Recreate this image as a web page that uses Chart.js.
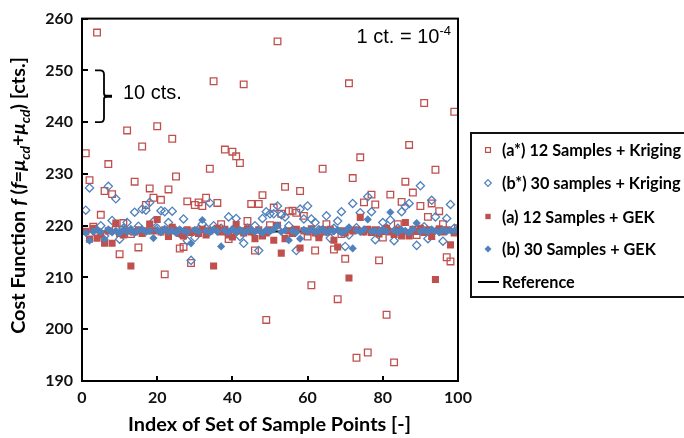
<!DOCTYPE html>
<html>
<head>
<meta charset="utf-8">
<script src="https://cdn.jsdelivr.net/npm/chart.js@4.4.1/dist/chart.umd.min.js"></script>
<style>
  html, body { margin: 0; padding: 0; background: #fff; }
  #wrap { position: relative; width: 684px; height: 438px; }
</style>
</head>
<body>
<div id="wrap"><canvas id="costChart"></canvas></div>
<script>
// index of the set of sample points
const sampleIndex = [
  1, 2, 3, 4, 5, 6, 7, 8, 9, 10, 11, 12, 13, 14, 15, 16, 17, 18, 19, 20,
  21, 22, 23, 24, 25, 26, 27, 28, 29, 30, 31, 32, 33, 34, 35, 36, 37, 38, 39, 40,
  41, 42, 43, 44, 45, 46, 47, 48, 49, 50, 51, 52, 53, 54, 55, 56, 57, 58, 59, 60,
  61, 62, 63, 64, 65, 66, 67, 68, 69, 70, 71, 72, 73, 74, 75, 76, 77, 78, 79, 80,
  81, 82, 83, 84, 85, 86, 87, 88, 89, 90, 91, 92, 93, 94, 95, 96, 97, 98, 99, 100
];

// (a*) 12 Samples + Kriging
const kriging12 = [
  234.0, 228.8, 219.8, 257.3, 222.1, 226.7, 231.9, 226.1, 219.2, 214.5,
  220.5, 238.4, 218.4, 228.5, 215.8, 235.3, 224.0, 227.2, 225.4, 239.2,
  225.0, 210.6, 227.0, 236.8, 229.5, 215.6, 215.9, 224.7, 212.8, 224.0,
  224.5, 223.8, 225.4, 231.0, 247.9, 224.4, 220.3, 234.7, 217.4, 234.3,
  233.4, 232.1, 247.3, 220.9, 224.2, 215.2, 224.2, 225.9, 201.8, 220.1,
  223.5, 255.6, 222.3, 227.5, 222.8, 222.9, 222.5, 226.7, 221.9, 217.9,
  208.5, 215.2, 218.5, 231.0, 220.3, 219.0, 215.4, 205.8, 218.4, 213.6,
  247.5, 229.2, 194.5, 233.2, 224.5, 195.5, 226.0, 224.1, 213.3, 217.7,
  202.8, 226.0, 193.6, 220.3, 224.6, 228.5, 235.6, 226.4, 218.2, 223.8,
  243.7, 221.7, 224.3, 230.8, 222.8, 220.3, 213.9, 213.1, 242.0, 219.5
];

// (b*) 30 samples + Kriging
const kriging30 = [
  223.0, 227.3, 219.0, 218.5, 220.0, 218.0, 227.6, 221.0, 225.2, 217.4,
  219.5, 220.6, 219.0, 222.6, 219.9, 223.2, 223.0, 224.5, 220.8, 219.5,
  222.9, 222.7, 220.6, 222.8, 219.0, 218.5, 221.3, 217.1, 213.3, 217.7,
  219.3, 220.3, 219.5, 224.4, 220.0, 219.0, 219.5, 219.0, 221.7, 219.0,
  221.4, 217.9, 216.6, 219.5, 219.0, 220.0, 215.2, 221.4, 222.7, 222.3,
  222.3, 223.8, 222.1, 221.7, 220.0, 219.0, 215.2, 223.2, 221.3, 223.8,
  221.3, 220.6, 219.2, 219.0, 221.9, 217.6, 219.5, 220.9, 222.7, 216.0,
  218.2, 224.3, 219.6, 222.5, 219.0, 225.6, 222.7, 217.3, 219.0, 220.6,
  219.5, 221.1, 217.1, 219.5, 222.7, 223.7, 224.3, 219.0, 216.2, 227.7,
  219.8, 217.5, 224.9, 221.7, 219.0, 217.0, 221.4, 224.1, 219.5, 219.0
];

// (a) 12 Samples + GEK
const gek12 = [
  218.9, 217.4, 219.5, 217.6, 218.2, 216.6, 219.0, 216.6, 220.5, 218.5,
  218.2, 219.0, 212.2, 218.8, 219.2, 218.5, 219.0, 220.3, 219.0, 221.2,
  218.8, 219.2, 217.9, 219.7, 219.0, 218.5, 218.0, 219.2, 218.7, 219.0,
  218.5, 219.3, 218.2, 219.0, 212.2, 219.5, 218.8, 219.3, 218.2, 217.8,
  220.2, 219.0, 218.6, 219.4, 218.8, 217.5, 219.2, 218.0, 218.6, 219.2,
  217.2, 220.1, 214.7, 217.5, 219.0, 218.5, 219.3, 215.7, 219.0, 218.8,
  219.4, 218.6, 217.7, 219.2, 218.8, 219.3, 217.2, 215.9, 219.0, 218.6,
  209.9, 219.0, 219.2, 221.6, 218.8, 219.3, 218.7, 219.2, 218.4, 219.0,
  219.5, 218.8, 218.3, 219.2, 218.0, 220.6, 218.0, 219.3, 218.9, 219.5,
  218.7, 219.2, 217.9, 209.6, 219.4, 218.8, 219.2, 216.3, 218.6, 219.0
];

// (b) 30 Samples + GEK
const gek30 = [
  218.6, 217.1, 218.9, 219.2, 218.8, 217.4, 219.3, 218.7, 219.0, 218.5,
  219.2, 218.9, 219.4, 218.6, 219.1, 219.3, 218.8, 219.0, 217.6, 219.2,
  218.7, 219.4, 218.9, 219.1, 218.6, 219.3, 219.0, 218.8, 216.6, 219.2,
  218.9, 221.1, 219.0, 218.7, 219.3, 218.9, 216.0, 219.1, 218.8, 219.4,
  218.9, 219.2, 218.7, 219.0, 219.3, 218.8, 219.1, 218.6, 219.2, 218.9,
  219.3, 220.0, 218.8, 219.1, 217.2, 219.0, 218.7, 217.5, 219.2, 218.9,
  219.3, 218.8, 219.0, 219.4, 218.7, 219.1, 218.9, 219.2, 218.6, 219.0,
  219.7, 215.6, 219.1, 218.8, 219.3, 221.2, 218.9, 219.0, 218.7, 219.3,
  218.9, 222.6, 219.1, 218.8, 219.2, 219.0, 218.7, 219.3, 220.5, 218.9,
  219.1, 218.8, 219.3, 219.0, 218.7, 219.2, 218.9, 219.1, 219.0, 219.2
];

// reference line
const referenceX = [0, 100];
const referenceY = [218.9, 218.9];

const seriesNames = [
  "(a*) 12 Samples + Kriging",
  "(b*) 30 samples + Kriging",
  "(a) 12 Samples + GEK",
  "(b) 30 Samples + GEK",
  "Reference"
];

const xTicks = [0, 20, 40, 60, 80, 100];
const yTicks = [190, 200, 210, 220, 230, 240, 250, 260];

const RED = "#C0504D";
const BLUE = "#4F81BD";
const FONT = "Lato, 'Open Sans', sans-serif";

function toPoints(xs, ys) {
  return xs.map((x, i) => ({ x: x, y: ys[i] }));
}

// small marker helper, used for the legend
function drawMarker(ctx, style, x, y, r, color, filled, lw) {
  ctx.beginPath();
  if (style === "rect") {
    const s = r * Math.SQRT1_2;
    ctx.rect(x - s, y - s, 2 * s, 2 * s);
  } else {
    ctx.moveTo(x, y - r);
    ctx.lineTo(x + r, y);
    ctx.lineTo(x, y + r);
    ctx.lineTo(x - r, y);
    ctx.closePath();
  }
  if (filled) {
    ctx.fillStyle = color;
    ctx.fill();
  } else {
    ctx.strokeStyle = color;
    ctx.lineWidth = lw;
    ctx.stroke();
  }
}

// fit a font size so the text gets the wanted width
function fitSize(ctx, text, weight, wanted, base) {
  ctx.font = weight + " " + base + "px " + FONT;
  return base * wanted / ctx.measureText(text).width;
}

const decorPlugin = {
  id: "costDecor",
  afterDraw(chart) {
    const ctx = chart.ctx;
    const a = chart.chartArea;
    const xs = chart.scales.x;
    const ys = chart.scales.y;
    ctx.save();

    // frame round the plot
    ctx.strokeStyle = "#000";
    ctx.lineWidth = 2;
    ctx.strokeRect(a.left, a.top, a.right - a.left, a.bottom - a.top);

    // inward tick marks
    ctx.beginPath();
    yTicks.forEach((v) => {
      const py = Math.round(ys.getPixelForValue(v));
      ctx.moveTo(a.left, py);
      ctx.lineTo(a.left + 6, py);
    });
    xTicks.forEach((v) => {
      const px = Math.round(xs.getPixelForValue(v));
      ctx.moveTo(px, a.bottom);
      ctx.lineTo(px, a.bottom - 5);
    });
    ctx.stroke();

    // bracket showing 10 cts.
    const top = ys.getPixelForValue(250);
    const bot = ys.getPixelForValue(240);
    const mid = (top + bot) / 2;
    const bx = a.left + 22;
    ctx.lineWidth = 1.8;
    ctx.beginPath();
    ctx.moveTo(a.left + 13, top);
    ctx.lineTo(bx - 4, top);
    ctx.quadraticCurveTo(bx, top, bx, top + 4);
    ctx.lineTo(bx, mid - 3);
    ctx.quadraticCurveTo(bx, mid, bx + 3, mid);
    ctx.quadraticCurveTo(bx, mid, bx, mid + 3);
    ctx.lineTo(bx, bot - 4);
    ctx.quadraticCurveTo(bx, bot, bx - 4, bot);
    ctx.lineTo(a.left + 13, bot);
    ctx.stroke();
    ctx.lineWidth = 3;
    ctx.beginPath();
    ctx.moveTo(bx, mid);
    ctx.lineTo(bx + 8, mid);
    ctx.stroke();

    // annotation texts
    ctx.fillStyle = "#000";
    ctx.textBaseline = "alphabetic";
    ctx.textAlign = "left";
    ctx.font = "20px 'Liberation Sans', Arial, sans-serif";
    ctx.fillText("10 cts.", 123, 99);
    ctx.font = "13px 'Liberation Sans', Arial, sans-serif";
    const supW = ctx.measureText("-4").width;
    ctx.fillText("-4", 451 - supW, 35);
    ctx.textAlign = "right";
    ctx.font = "20px 'Liberation Sans', Arial, sans-serif";
    ctx.fillText("1 ct. = 10", 451 - supW, 43);

    // x axis title
    ctx.textAlign = "center";
    const xt = "Index of Set of Sample Points [-]";
    const xs2 = fitSize(ctx, xt, "bold", 283, 18);
    ctx.font = "bold " + xs2.toFixed(2) + "px " + FONT;
    ctx.fillText(xt, 269.5, 431);

    // y axis title with italic symbols and subscripts
    const segs = [
      { t: "Cost Function ", it: false },
      { t: "f", it: true },
      { t: " (", it: false },
      { t: "f", it: true },
      { t: "=", it: false },
      { t: "\u03bc", it: true },
      { t: "cd", it: true, sub: true },
      { t: "+", it: false },
      { t: "\u03bc", it: true },
      { t: "cd", it: true, sub: true },
      { t: ") [cts.]", it: false }
    ];
    const size = 18;
    const fontOf = (s, k) => (s.it ? "italic " : "") + "bold " + (s.sub ? k * size * 0.7 : k * size).toFixed(2) + "px " + FONT;
    let total = 0;
    segs.forEach((s) => { ctx.font = fontOf(s, 1); total += ctx.measureText(s.t).width; });
    const k = 277 / total;
    let w = 0;
    segs.forEach((s) => { ctx.font = fontOf(s, k); s.w = ctx.measureText(s.t).width; w += s.w; });
    ctx.translate(25, 195.5);
    ctx.rotate(-Math.PI / 2);
    ctx.textAlign = "left";
    let cx = -w / 2;
    segs.forEach((s) => {
      ctx.font = fontOf(s, k);
      ctx.fillText(s.t, cx, s.sub ? size * k * 0.25 : 0);
      cx += s.w;
    });
    ctx.setTransform(1, 0, 0, 1, 0, 0);

    // legend box
    ctx.lineWidth = 2;
    ctx.strokeStyle = "#111";
    ctx.strokeRect(471, 133, 240, 164);
    const rows = [150, 183, 216.5, 249, 282];
    const legendFont = fitSize(ctx, seriesNames[0], "bold", 179, 15);
    ctx.font = "bold " + legendFont.toFixed(2) + "px " + FONT;
    ctx.textAlign = "left";
    ctx.textBaseline = "middle";
    drawMarker(ctx, "rect", 488, rows[0], 3.5, RED, false, 1.2);
    drawMarker(ctx, "diamond", 488, rows[1], 3.3, BLUE, false, 1.2);
    drawMarker(ctx, "rect", 488, rows[2], 3.8, RED, true, 0);
    drawMarker(ctx, "diamond", 488, rows[3], 3.5, BLUE, true, 0);
    ctx.strokeStyle = "#000";
    ctx.lineWidth = 2;
    ctx.beginPath();
    ctx.moveTo(478, rows[4]);
    ctx.lineTo(499, rows[4]);
    ctx.stroke();
    ctx.fillStyle = "#000";
    seriesNames.forEach((name, i) => ctx.fillText(name, 502, rows[i] + 1));

    ctx.restore();
  }
};

const ctx = document.getElementById("costChart").getContext("2d");
const costChart = new Chart(ctx, {
  type: "scatter",
  data: {
    datasets: [
      {
        label: seriesNames[0],
        data: toPoints(sampleIndex, kriging12),
        pointStyle: "rect",
        pointRadius: 4.7,
        borderColor: RED,
        backgroundColor: "rgba(0,0,0,0)",
        borderWidth: 1.3,
        order: 5
      },
      {
        label: seriesNames[1],
        data: toPoints(sampleIndex, kriging30),
        pointStyle: "rectRot",
        pointRadius: 4.1,
        borderColor: BLUE,
        backgroundColor: "rgba(0,0,0,0)",
        borderWidth: 1.3,
        order: 4
      },
      {
        label: seriesNames[2],
        data: toPoints(sampleIndex, gek12),
        pointStyle: "rect",
        pointRadius: 5,
        borderColor: RED,
        backgroundColor: RED,
        borderWidth: 0,
        order: 3
      },
      {
        label: seriesNames[3],
        data: toPoints(sampleIndex, gek30),
        pointStyle: "rectRot",
        pointRadius: 4.1,
        borderColor: BLUE,
        backgroundColor: BLUE,
        borderWidth: 0,
        order: 2
      },
      {
        type: "line",
        label: seriesNames[4],
        data: toPoints(referenceX, referenceY),
        borderColor: "#000",
        borderWidth: 2,
        pointRadius: 0,
        showLine: true,
        order: 6
      }
    ]
  },
  options: {
    responsive: true,
    maintainAspectRatio: false,
    animation: false,
    layout: {
      padding: { left: 0, top: 15, right: 226, bottom: 0 }
    },
    scales: {
      x: {
        type: "linear",
        min: 0,
        max: 100,
        grid: { display: false, drawTicks: false },
        border: { display: false },
        ticks: {
          stepSize: 20,
          padding: 7,
          color: "#111",
          font: { family: FONT, size: 16, weight: "bold" }
        },
        afterFit: (scale) => { scale.height = 57; }
      },
      y: {
        min: 190,
        max: 260,
        grid: { display: false, drawTicks: false },
        border: { display: false },
        ticks: {
          stepSize: 10,
          padding: 9,
          color: "#111",
          font: { family: FONT, size: 16, weight: "bold" }
        },
        afterFit: (scale) => { scale.width = 82; }
      }
    },
    plugins: {
      legend: { display: false },
      tooltip: { enabled: false }
    }
  },
  plugins: [decorPlugin]
});
</script>
</body>
</html>
